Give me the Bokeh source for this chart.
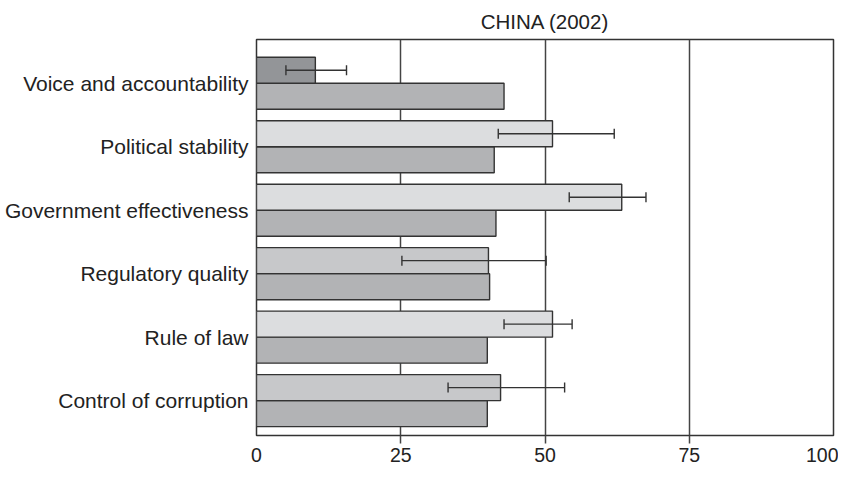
from bokeh.plotting import figure
from bokeh.models import Range1d, FixedTicker, ColumnDataSource, Whisker, TeeHead
from bokeh.embed import file_html
from bokeh.resources import INLINE

categories = ["Voice and accountability", "Political stability", "Government effectiveness",
              "Regulatory quality", "Rule of law", "Control of corruption"]
china = [10.2, 51.3, 63.3, 40.2, 51.3, 42.3]
china_lo = [5.1, 41.9, 54.2, 25.2, 42.9, 33.2]
china_hi = [15.6, 62.0, 67.5, 50.2, 54.7, 53.4]
comparison = [42.9, 41.2, 41.5, 40.4, 40.0, 40.0]
x_ticks = [0, 25, 50, 75, 100]
title_text = "CHINA (2002)"

top_colors = ["#939598", "#dcdddf", "#dcdddf", "#c7c8ca", "#dcdddf", "#c7c8ca"]
bottom_color = "#b2b3b5"
line_col = "#333333"
FONT = "Liberation Sans"
BAR_H = 0.41

pos = list(range(len(categories)))
top_y = [p_ - BAR_H / 2 for p_ in pos]
bot_y = [p_ + BAR_H / 2 for p_ in pos]

src_top = ColumnDataSource(dict(y=top_y, v=china, lo=china_lo, hi=china_hi, c=top_colors))
src_bot = ColumnDataSource(dict(y=bot_y, v=comparison))

p = figure(width=838, height=464, output_backend="svg", toolbar_location=None,
           x_range=Range1d(0, 100), y_range=Range1d(5.55, -0.69),
           min_border_left=256, min_border_right=5, min_border_top=0, min_border_bottom=0)

p.title.text = title_text
p.title.align = "center"
p.title.text_font = FONT
p.title.text_font_size = "20.5px"
p.title.text_font_style = "normal"
p.title.text_color = "#222222"
p.title.standoff = 14

p.hbar(y="y", right="v", left=0, height=BAR_H, source=src_bot,
       fill_color=bottom_color, line_color=line_col, line_width=1.4)
p.hbar(y="y", right="v", left=0, height=BAR_H, source=src_top,
       fill_color="c", line_color=line_col, line_width=1.4)

w = Whisker(source=src_top, base="y", lower="lo", upper="hi", dimension="width",
            line_color=line_col, line_width=1.4, level="overlay",
            upper_head=TeeHead(size=10, line_color=line_col, line_width=1.4),
            lower_head=TeeHead(size=10, line_color=line_col, line_width=1.4))
p.add_layout(w)

p.outline_line_color = line_col
p.outline_line_width = 1.5
p.outline_line_alpha = 1.0

p.xgrid.ticker = FixedTicker(ticks=[25, 50, 75])
p.xgrid.grid_line_color = "#444444"
p.xgrid.grid_line_width = 1.5
p.xgrid.level = "underlay"
p.ygrid.grid_line_color = None

xa = p.xaxis[0]
xa.ticker = FixedTicker(ticks=x_ticks, minor_ticks=[25, 50, 75])
xa.axis_line_color = None
xa.major_tick_line_color = None
xa.major_tick_out = 0
xa.major_tick_in = 0
xa.minor_tick_line_color = "#444444"
xa.minor_tick_line_width = 1.5
xa.minor_tick_out = 8
xa.minor_tick_in = 0
xa.major_label_standoff = 4
xa.major_label_text_font = FONT
xa.major_label_text_font_size = "19.5px"
xa.major_label_text_color = "#222222"

ya = p.yaxis[0]
ya.ticker = FixedTicker(ticks=pos)
ya.major_label_overrides = {i: c for i, c in enumerate(categories)}
ya.axis_line_color = None
ya.major_tick_line_color = None
ya.minor_tick_line_color = None
ya.major_tick_out = 0
ya.major_tick_in = 0
ya.major_label_standoff = 8
ya.major_label_text_font = FONT
ya.major_label_text_font_size = "21px"
ya.major_label_text_color = "#222222"

open("out.html", "w").write(file_html(p, INLINE))
